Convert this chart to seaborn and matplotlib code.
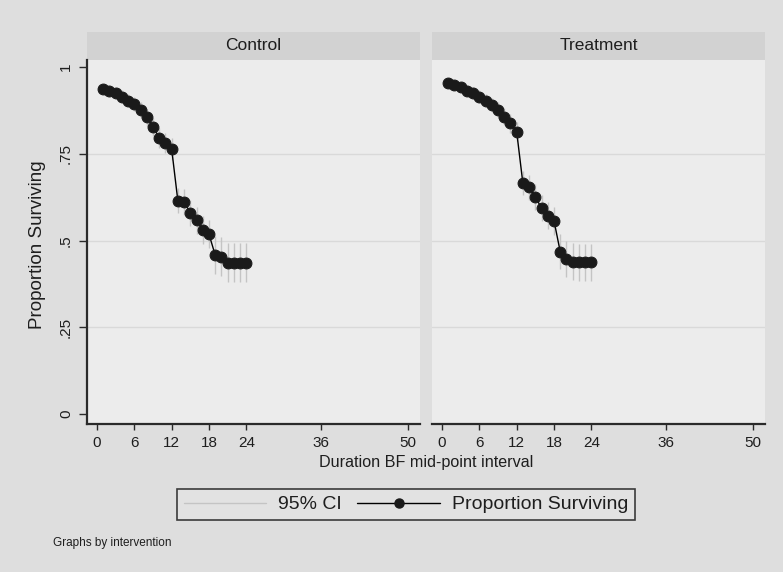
import matplotlib
matplotlib.use("Agg")
import matplotlib.pyplot as plt
from matplotlib.lines import Line2D
from matplotlib import font_manager
import seaborn as sns
import pandas as pd

# ---- data -------------------------------------------------------------
groups = ["Control", "Treatment"]
months = list(range(1, 25))

control_surv = [0.937, 0.931, 0.924, 0.915, 0.903, 0.893, 0.876, 0.855,
                0.828, 0.796, 0.782, 0.764, 0.614, 0.611, 0.580, 0.559,
                0.530, 0.518, 0.458, 0.453, 0.436, 0.436, 0.436, 0.436]
control_lo = [0.922, 0.915, 0.907, 0.897, 0.884, 0.873, 0.854, 0.831,
              0.802, 0.768, 0.753, 0.733, 0.578, 0.574, 0.542, 0.520,
              0.490, 0.477, 0.403, 0.397, 0.379, 0.379, 0.379, 0.379]
control_hi = [0.952, 0.947, 0.941, 0.933, 0.922, 0.913, 0.898, 0.879,
              0.854, 0.824, 0.811, 0.795, 0.650, 0.648, 0.618, 0.598,
              0.570, 0.559, 0.513, 0.509, 0.493, 0.493, 0.493, 0.493]

treat_surv = [0.955, 0.948, 0.941, 0.932, 0.924, 0.915, 0.903, 0.890,
              0.876, 0.857, 0.838, 0.814, 0.665, 0.653, 0.626, 0.593,
              0.571, 0.557, 0.468, 0.446, 0.439, 0.437, 0.437, 0.437]
treat_lo = [0.942, 0.934, 0.926, 0.916, 0.907, 0.897, 0.884, 0.869,
            0.853, 0.832, 0.811, 0.786, 0.630, 0.617, 0.589, 0.555,
            0.532, 0.517, 0.418, 0.394, 0.386, 0.384, 0.384, 0.384]
treat_hi = [0.968, 0.962, 0.956, 0.948, 0.941, 0.933, 0.922, 0.911,
            0.899, 0.882, 0.865, 0.842, 0.700, 0.689, 0.663, 0.631,
            0.610, 0.597, 0.518, 0.498, 0.492, 0.490, 0.490, 0.490]

x_ticks = [0, 6, 12, 18, 24, 36, 50]
y_ticks = [0, 0.25, 0.5, 0.75, 1]
y_tick_labels = ["0", ".25", ".5", ".75", "1"]

df = pd.concat([
    pd.DataFrame({"intervention": "Control", "month": months,
                  "surv": control_surv, "lo": control_lo, "hi": control_hi}),
    pd.DataFrame({"intervention": "Treatment", "month": months,
                  "surv": treat_surv, "lo": treat_lo, "hi": treat_hi}),
])

# ---- style ------------------------------------------------------------
sns.set_style("white")
names = {f.name for f in font_manager.fontManager.ttflist}
regular = "Liberation Sans" if "Liberation Sans" in names else "DejaVu Sans"
narrow = "Liberation Sans Narrow" if "Liberation Sans Narrow" in names else regular
plt.rcParams["font.family"] = [regular, "DejaVu Sans"]

outer_bg = "#dedede"
plot_bg = "#ececec"
strip_bg = "#d2d2d2"
grid_col = "#d9d9d9"
ci_col = "#c4c4c4"
axis_col = "#2a2a2a"
text_col = "#1e1e1e"

W, H = 783, 572
fig = plt.figure(figsize=(W / 100, H / 100), dpi=100)
fig.patch.set_facecolor(outer_bg)


def box(x0, y0, x1, y1):
    """Pixel box (top-left origin) -> figure rect."""
    return [x0 / W, 1 - y1 / H, (x1 - x0) / W, (y1 - y0) / H]


panels = {"Control": (87, 420), "Treatment": (432, 765)}
top, bottom = 60, 424

for i, g in enumerate(groups):
    x0, x1 = panels[g]
    # facet header strip
    sax = fig.add_axes(box(x0, 32, x1, top))
    sax.set_facecolor(strip_bg)
    sax.set_xticks([]); sax.set_yticks([])
    for s in sax.spines.values():
        s.set_visible(False)
    sax.text(0.5, 0.5, g, ha="center", va="center", fontsize=12.5,
             family=narrow, color=text_col, transform=sax.transAxes)

    ax = fig.add_axes(box(x0, top, x1, bottom))
    ax.set_facecolor(plot_bg)
    sub = df[df["intervention"] == g]

    for yv in [0.25, 0.5, 0.75]:
        ax.axhline(yv, color=grid_col, lw=1, zorder=0)

    ax.vlines(sub["month"], sub["lo"], sub["hi"], color=ci_col, lw=1, zorder=1)
    sns.lineplot(data=sub, x="month", y="surv", color="black", lw=1,
                 marker="o", markersize=7.8, markeredgecolor="#1a1a1a",
                 markerfacecolor="#1a1a1a", ax=ax, zorder=3)

    ax.set_xlim(-1.6, 51.9)
    ax.set_ylim(-0.0288, 1.0202)
    ax.set_xticks(x_ticks)
    ax.set_xticklabels([str(t) for t in x_ticks], family=narrow, fontsize=11,
                       color=text_col)
    ax.set_xlabel(""); ax.set_ylabel("")
    ax.tick_params(axis="x", direction="out", length=4, width=1,
                   color=axis_col, pad=4.5, bottom=True)
    for s in ["top", "right"]:
        ax.spines[s].set_visible(False)
    ax.spines["bottom"].set_color(axis_col)
    ax.spines["bottom"].set_linewidth(1.6)
    if i == 0:
        ax.set_yticks(y_ticks)
        ax.set_yticklabels(y_tick_labels, rotation=90, va="center",
                           family=narrow, fontsize=11, color=text_col)
        ax.tick_params(axis="y", direction="out", length=6, width=1,
                       color=axis_col, pad=4, left=True)
        ax.spines["left"].set_color(axis_col)
        ax.spines["left"].set_linewidth(1.6)
    else:
        ax.set_yticks([])
        ax.spines["left"].set_visible(False)

# axis titles
fig.text(426 / W, 1 - 462 / H, "Duration BF mid-point interval",
         ha="center", va="center", fontsize=11.6, family=narrow, color=text_col)
fig.text(38 / W, 1 - 245 / H, "Proportion Surviving", rotation=90,
         ha="center", va="center", fontsize=13.5, color=text_col)

# legend
handles = [
    Line2D([], [], color=ci_col, lw=1),
    Line2D([], [], color="black", lw=1, marker="o", markersize=6.5,
           markerfacecolor="#1a1a1a", markeredgecolor="#1a1a1a"),
]
leg = fig.legend(handles, ["95% CI", "Proportion Surviving"], ncol=2,
                 loc="center", bbox_to_anchor=(406 / W, 1 - 504.5 / H),
                 fontsize=14, frameon=True, fancybox=False,
                 handlelength=4.25, handletextpad=0.6, columnspacing=0.8,
                 borderpad=0.35, borderaxespad=0)
for t in leg.get_texts():
    t.set_color(text_col)
leg.get_frame().set_edgecolor("#111111")
leg.get_frame().set_linewidth(1.2)
leg.get_frame().set_facecolor("#e4e4e4")

fig.text(53 / W, 1 - 543 / H, "Graphs by intervention", ha="left",
         va="center", fontsize=8.5, color=text_col)

fig.savefig("out.png", dpi=100, facecolor=fig.get_facecolor())
